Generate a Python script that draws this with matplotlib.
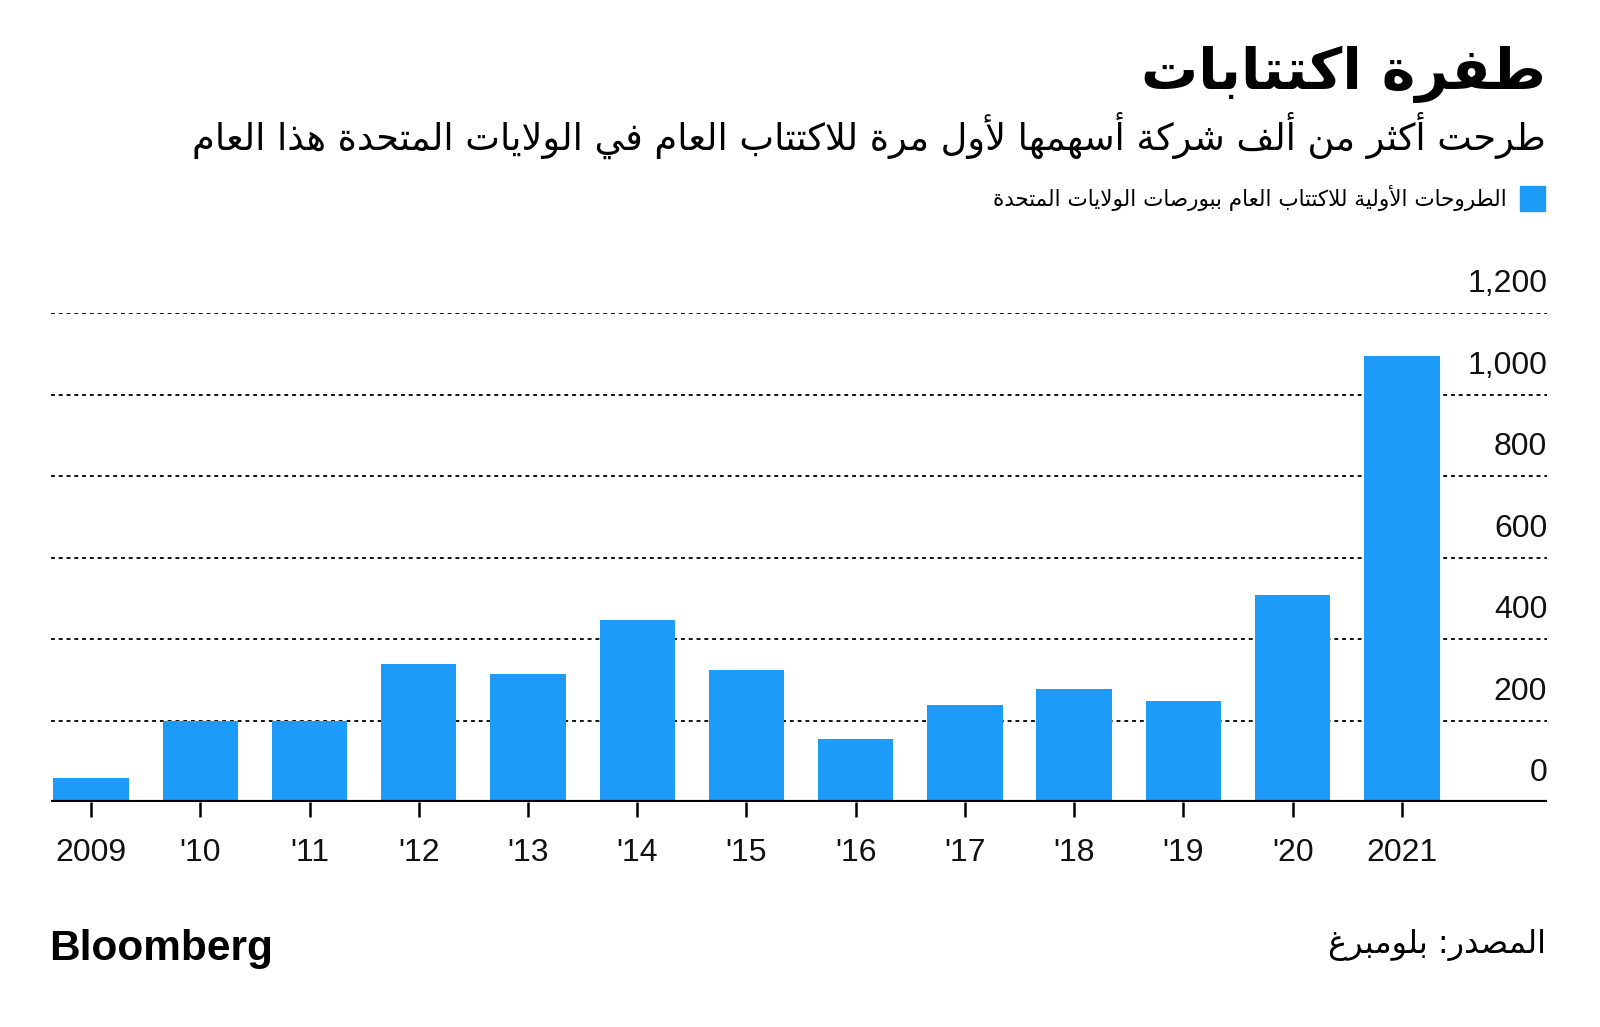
import matplotlib
matplotlib.use("Agg")
import matplotlib.pyplot as plt
import matplotlib.transforms as mtransforms
from matplotlib.patches import Rectangle

# data
years = ['2009', "'10", "'11", "'12", "'13", "'14", "'15", "'16", "'17", "'18", "'19", "'20", '2021']
ipos = [58, 200, 200, 338, 314, 446, 324, 156, 239, 277, 247, 508, 1095]
yticks = [0, 200, 400, 600, 800, 1000, 1200]
ytick_labels = ['0', '200', '400', '600', '800', '1,000', '1,200']

title = 'طفرة اكتتابات'
subtitle = 'طرحت أكثر من ألف شركة أسهمها لأول مرة للاكتتاب العام في الولايات المتحدة هذا العام'
legend_label = 'الطروحات الأولية للاكتتاب العام ببورصات الولايات المتحدة'
source = 'المصدر: بلومبرغ'

BLUE = '#1D9BF9'

# matplotlib has no arabic shaping, so pick the presentation forms by hand
# (first form codepoint, number of forms): 4 joins both sides, 2 joins right only
AR_FORMS = {
    'ء': (0xFE80, 1), 'آ': (0xFE81, 2), 'أ': (0xFE83, 2), 'ؤ': (0xFE85, 2), 'إ': (0xFE87, 2),
    'ئ': (0xFE89, 4), 'ا': (0xFE8D, 2), 'ب': (0xFE8F, 4), 'ة': (0xFE93, 2), 'ت': (0xFE95, 4),
    'ث': (0xFE99, 4), 'ج': (0xFE9D, 4), 'ح': (0xFEA1, 4), 'خ': (0xFEA5, 4), 'د': (0xFEA9, 2),
    'ذ': (0xFEAB, 2), 'ر': (0xFEAD, 2), 'ز': (0xFEAF, 2), 'س': (0xFEB1, 4), 'ش': (0xFEB5, 4),
    'ص': (0xFEB9, 4), 'ض': (0xFEBD, 4), 'ط': (0xFEC1, 4), 'ظ': (0xFEC5, 4), 'ع': (0xFEC9, 4),
    'غ': (0xFECD, 4), 'ف': (0xFED1, 4), 'ق': (0xFED5, 4), 'ك': (0xFED9, 4), 'ل': (0xFEDD, 4),
    'م': (0xFEE1, 4), 'ن': (0xFEE5, 4), 'ه': (0xFEE9, 4), 'و': (0xFEED, 2), 'ى': (0xFEEF, 2),
    'ي': (0xFEF1, 4),
}
LAM_ALEF = {'آ': 0xFEF5, 'أ': 0xFEF7, 'إ': 0xFEF9, 'ا': 0xFEFB}


def shape(text):
    items = []
    i = 0
    while i < len(text):
        c = text[i]
        if c == 'ل' and i + 1 < len(text) and text[i + 1] in LAM_ALEF:
            items.append((c, LAM_ALEF[text[i + 1]]))
            i += 2
        else:
            items.append((c, None))
            i += 1

    def nforms(it):
        if it[1]:
            return 2
        return AR_FORMS.get(it[0], (0, 0))[1]

    out = []
    for k, it in enumerate(items):
        n = nforms(it)
        if n == 0:
            out.append(it[0])
            continue
        base = it[1] if it[1] else AR_FORMS[it[0]][0]
        prev_j = k > 0 and nforms(items[k - 1]) == 4
        next_j = n == 4 and k + 1 < len(items) and nforms(items[k + 1]) >= 2
        if n == 1:
            form = 0
        elif n == 2:
            form = 1 if prev_j else 0
        else:
            form = [[0, 2], [1, 3]][prev_j][next_j]
        out.append(chr(base + form))
    return ''.join(reversed(out))


plt.rcParams['font.family'] = ['Liberation Sans', 'DejaVu Sans']

fig = plt.figure(figsize=(16, 10.27), dpi=100)
ax = fig.add_axes([0.0319, 0.219, 0.9351, 0.4762])

x = range(len(years))
ax.bar(x, ipos, width=0.69, color=BLUE, zorder=2)

ax.set_xlim(-0.366, 13.33)
ax.set_ylim(0, 1200)

for v in yticks[1:]:
    ax.axhline(v, color='#111111', lw=1.4, ls=(0, (2.0, 2.0)), zorder=1)
ax.axhline(0, color='black', lw=3.0, zorder=3)

trans = mtransforms.blended_transform_factory(ax.transAxes, ax.transData)
for v, lab in zip(yticks, ytick_labels):
    ax.annotate(lab, (1.0, v), xycoords=trans, xytext=(0, 15), textcoords='offset points',
                ha='right', va='baseline', fontsize=23, color='#111111')

ax.set_xticks(list(x))
ax.set_xticklabels(years, fontsize=23, color='#111111')
ax.tick_params(axis='x', length=11, width=1.8, pad=15, color='black')
ax.set_yticks([])
for s in ax.spines.values():
    s.set_visible(False)

ar = ['DejaVu Sans']
fig.text(0.966, 0.928, shape(title), ha='right', va='center', fontsize=41,
         fontweight='bold', family=ar)
fig.text(0.966, 0.868, shape(subtitle), ha='right', va='center', fontsize=26.5, family=ar)
fig.text(0.942, 0.807, shape(legend_label), ha='right', va='center', fontsize=15.5, family=ar)
fig.patches.append(Rectangle((0.95, 0.7946), 0.0156, 0.0243, transform=fig.transFigure,
                             color=BLUE, figure=fig))
fig.text(0.966, 0.0795, shape(source), ha='right', va='center', fontsize=23, family=ar)
fig.text(0.031, 0.0755, 'Bloomberg', ha='left', va='center', fontsize=30.5, fontweight='bold')

fig.savefig('out.png', dpi=100)
